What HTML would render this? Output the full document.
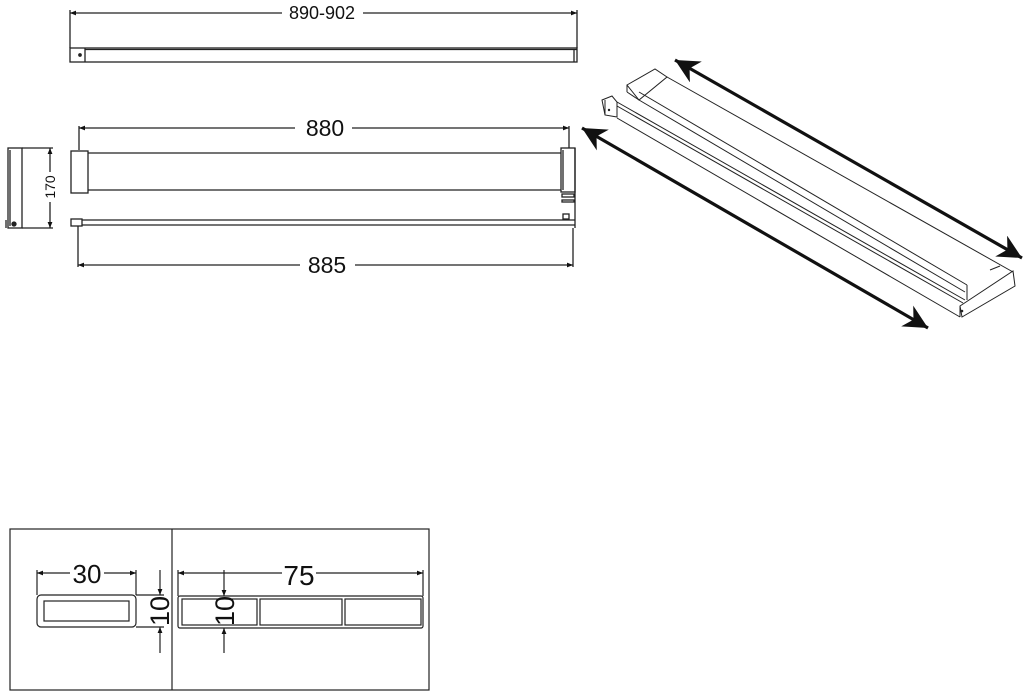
<!DOCTYPE html>
<html><head><meta charset="utf-8"><style>
html,body{margin:0;padding:0;background:#fff;width:1024px;height:695px;overflow:hidden}
svg{display:block}
text{font-family:"Liberation Sans",Arial,sans-serif;fill:#111}
</style></head><body>
<svg width="1024" height="695" viewBox="0 0 1024 695" xmlns="http://www.w3.org/2000/svg">
<defs>
<marker id="a" viewBox="0 0 10 10" refX="10" refY="5" markerWidth="8" markerHeight="6" orient="auto-start-reverse" markerUnits="userSpaceOnUse"><path d="M0,1 L10,5 L0,9 z" fill="#111"/></marker>
<marker id="big" viewBox="0 0 10 10" refX="10" refY="5" markerWidth="28" markerHeight="24" orient="auto-start-reverse" markerUnits="userSpaceOnUse"><path d="M0,0 L10,5 L0,10 L3,5 z" fill="#111"/></marker>
</defs>
<g stroke="#222" fill="none" stroke-width="1.3">
<!-- top view -->
<line x1="70" y1="10" x2="70" y2="48"/><line x1="577" y1="10" x2="577" y2="48"/>
<line x1="70" y1="13" x2="282" y2="13" marker-start="url(#a)"/><line x1="363" y1="13" x2="577" y2="13" marker-end="url(#a)"/>
<rect x="70" y="48" width="507" height="14"/>
<line x1="85" y1="48" x2="85" y2="62"/><line x1="85" y1="49.5" x2="577" y2="49.5"/>
<line x1="574" y1="49" x2="574" y2="62"/>
<circle cx="80" cy="55" r="1.2" fill="#222"/>
<!-- front view -->
<line x1="79" y1="126" x2="79" y2="150"/><line x1="569" y1="126" x2="569" y2="148"/>
<line x1="79" y1="128" x2="295" y2="128" marker-start="url(#a)"/><line x1="352" y1="128" x2="569" y2="128" marker-end="url(#a)"/>
<rect x="71" y="151" width="17" height="42"/>
<line x1="88" y1="153" x2="561" y2="153"/><line x1="88" y1="190" x2="561" y2="190"/>
<rect x="561" y="148" width="14" height="44"/><line x1="563" y1="150" x2="563" y2="190"/>
<line x1="575" y1="148" x2="575" y2="228"/>
<rect x="562" y="194" width="12" height="3"/><rect x="562" y="200" width="12" height="2"/>
<rect x="563" y="214" width="6" height="5"/>
<rect x="71" y="219" width="11" height="7"/>
<line x1="82" y1="220" x2="575" y2="220"/><line x1="82" y1="225" x2="575" y2="225"/>
<line x1="78" y1="226" x2="78" y2="267"/><line x1="573" y1="228" x2="573" y2="267"/>
<line x1="78" y1="265" x2="300" y2="265" marker-start="url(#a)"/><line x1="355" y1="265" x2="573" y2="265" marker-end="url(#a)"/>
<!-- side view -->
<rect x="8" y="148" width="14" height="80"/>
<line x1="10" y1="150" x2="10" y2="226"/><line x1="6" y1="220" x2="6" y2="228"/>
<circle cx="14" cy="224" r="2" fill="#222"/>
<line x1="22" y1="148" x2="53" y2="148"/><line x1="22" y1="228" x2="53" y2="228"/>
<line x1="50" y1="148" x2="50" y2="172" marker-start="url(#a)"/><line x1="50" y1="202" x2="50" y2="228" marker-end="url(#a)"/>
</g>
<g stroke="#222" fill="none" stroke-width="1">
<!-- isometric -->
<polygon points="627,85 655,69 667,77 639,100"/>
<line x1="627" y1="85" x2="627" y2="92"/><line x1="627" y1="92" x2="639" y2="100"/>
<line x1="667" y1="77" x2="1013" y2="272"/>
<line x1="639" y1="92" x2="967" y2="285"/>
<line x1="639" y1="100" x2="965" y2="292"/>
<polygon points="602,100 612,96 617,102 617,117 605,115"/>
<line x1="605" y1="100" x2="605" y2="115"/>
<line x1="617" y1="102" x2="965" y2="300"/>
<line x1="617" y1="106" x2="963" y2="303"/>
<line x1="617" y1="118" x2="960" y2="317"/>
<polygon points="960,306 1013,271 1015,286 962,317"/>
<line x1="960" y1="306" x2="960" y2="317"/>
<line x1="967" y1="285" x2="967" y2="300"/>
<line x1="990" y1="270" x2="1000" y2="266"/>
</g>
<g stroke="#111" stroke-width="3.2">
<line x1="675" y1="60" x2="1022" y2="258" marker-start="url(#big)" marker-end="url(#big)"/>
<line x1="582" y1="128" x2="928" y2="328" marker-start="url(#big)" marker-end="url(#big)"/>
</g>
<circle cx="962" cy="311" r="1.3" fill="#222"/><circle cx="609" cy="110" r="1.2" fill="#222"/>
<text x="322" y="19" font-size="18" text-anchor="middle">890-902</text>
<text x="325" y="136" font-size="23" text-anchor="middle">880</text>
<text x="327" y="273" font-size="23" text-anchor="middle">885</text>
<text x="0" y="0" font-size="14" text-anchor="middle" transform="translate(55,187) rotate(-90)">170</text>
<!-- bottom section -->
<g stroke="#222" fill="none" stroke-width="1.2">
<rect x="10" y="529" width="419" height="161"/>
<line x1="172" y1="529" x2="172" y2="690"/>
<rect x="37" y="595" width="99" height="32" rx="4"/>
<rect x="44" y="601" width="85" height="20"/>
<line x1="37" y1="570" x2="37" y2="595"/><line x1="136" y1="570" x2="136" y2="595"/>
<line x1="37" y1="573" x2="70" y2="573" marker-start="url(#a)"/><line x1="104" y1="573" x2="136" y2="573" marker-end="url(#a)"/>
<line x1="136" y1="595" x2="164" y2="595"/><line x1="136" y1="627" x2="164" y2="627"/>
<line x1="160" y1="570" x2="160" y2="595" marker-end="url(#a)"/><line x1="160" y1="653" x2="160" y2="627" marker-end="url(#a)"/>
<rect x="178" y="596" width="245" height="32" rx="2"/>
<rect x="182" y="599" width="75" height="26"/>
<rect x="260" y="599" width="82" height="26"/>
<rect x="345" y="599" width="76" height="26"/>
<line x1="178" y1="570" x2="178" y2="596"/><line x1="423" y1="570" x2="423" y2="596"/>
<line x1="178" y1="573" x2="282" y2="573" marker-start="url(#a)"/><line x1="316" y1="573" x2="423" y2="573" marker-end="url(#a)"/>
<line x1="224" y1="570" x2="224" y2="596" marker-end="url(#a)"/><line x1="224" y1="653" x2="224" y2="628" marker-end="url(#a)"/>
</g>
<text x="87" y="583" font-size="26" text-anchor="middle">30</text>
<text x="299" y="585" font-size="28" text-anchor="middle">75</text>
<text x="0" y="0" font-size="27" text-anchor="middle" transform="translate(169,611) rotate(-90)">10</text>
<text x="0" y="0" font-size="27" text-anchor="middle" transform="translate(234,611) rotate(-90)">10</text>
</svg>
</body></html>
